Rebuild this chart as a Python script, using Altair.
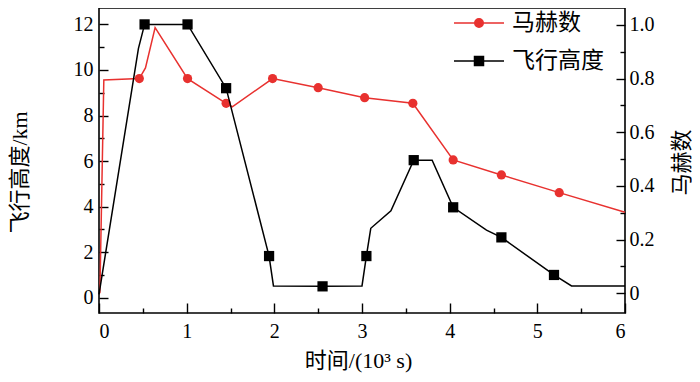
import altair as alt
import pandas as pd

SERIF = "Liberation Serif, Noto Sans CJK SC"
RED = "#e8312f"
BLACK = "#000000"

# 飞行高度 (km) vs 时间 (10^3 s)
alt_line_t = [0.0, 0.45, 0.52, 1.01, 1.45, 1.94, 1.99, 2.55, 3.00, 3.05, 3.10, 3.33, 3.59, 3.80, 4.04, 4.42, 4.59, 5.19, 5.39, 6.0]
alt_line_v = [0.15, 10.95, 12.0, 12.0, 9.2, 1.83, 0.52, 0.5, 0.52, 1.83, 3.05, 3.82, 6.04, 6.04, 3.97, 2.97, 2.65, 1.0, 0.52, 0.52]
alt_mark_t = [0.52, 1.01, 1.45, 1.94, 2.55, 3.05, 3.59, 4.04, 4.59, 5.19]
alt_mark_v = [12.0, 12.0, 9.2, 1.83, 0.5, 1.83, 6.04, 3.97, 2.65, 1.0]

# 马赫数 vs 时间
mach_line_t = [0.01, 0.055, 0.46, 0.53, 0.64, 1.01, 1.45, 1.52, 1.98, 2.50, 3.03, 3.58, 4.04, 4.59, 5.25, 6.0]
mach_line_v = [0.0, 0.795, 0.80, 0.84, 0.99, 0.80, 0.708, 0.695, 0.80, 0.766, 0.729, 0.708, 0.497, 0.441, 0.375, 0.302]
mach_mark_t = [0.46, 1.01, 1.45, 1.98, 2.50, 3.03, 3.58, 4.04, 4.59, 5.25]
mach_mark_v = [0.80, 0.80, 0.708, 0.80, 0.766, 0.729, 0.708, 0.497, 0.441, 0.375]

series = ["马赫数", "飞行高度"]
series_colors = [RED, BLACK]
legend_paths = [
    "M-1,0H1M0.17,0A0.17,0.17,0,1,1,-0.17,0A0.17,0.17,0,1,1,0.17,0Z",
    "M-1,0H1M-0.18,-0.18H0.18V0.18H-0.18Z",
]

x_ticks = [i * 0.5 for i in range(13)]
alt_ticks = list(range(0, 13))
mach_ticks = [i / 10 for i in range(11)]

W, H = 526, 305
TITLE_SIZE = 22

df_alt_line = pd.DataFrame({"t": alt_line_t, "v": alt_line_v, "i": range(len(alt_line_t))})
df_alt_mark = pd.DataFrame({"t": alt_mark_t, "v": alt_mark_v})
df_mach_line = pd.DataFrame({"t": mach_line_t, "v": mach_line_v, "i": range(len(mach_line_t))})
df_mach_mark = pd.DataFrame({"t": mach_mark_t, "v": mach_mark_v})
df_legend = pd.DataFrame({"series": series, "t": [0.0, 0.0], "v": [0.0, 0.0]})

x_enc = alt.X(
    "t:Q",
    scale=alt.Scale(domain=[0, 6], nice=False, zero=False),
    axis=alt.Axis(
        values=x_ticks,
        title="时间/(10³ s)",
        titleX=259, titleY=47, titleBaseline="middle", titleAnchor="middle",
        labelExpr="datum.value % 1 === 0 ? format(datum.value, 'd') : ''",
        labelPadding=8,
        grid=True,
        gridDash={"condition": {"test": "datum.value % 1 === 0", "value": [0, H - 10, 10, 2000]},
                  "value": [0, H - 5, 5, 2000]},
    ),
)

y_alt = alt.Y(
    "v:Q",
    scale=alt.Scale(domain=[-0.67, 12.72], nice=False, zero=False),
    axis=alt.Axis(
        orient="left",
        values=alt_ticks,
        title="飞行高度/km",
        titleAngle=270, titleBaseline="middle", titleX=-80, titleY=164,
        labelExpr="datum.value % 2 === 0 ? datum.label : ''",
        labelPadding=6,
        grid=True,
        gridDash={"condition": {"test": "datum.value % 2 === 0", "value": [9, 2000]}, "value": [5, 2000]},
    ),
)

y_mach = alt.Y(
    "v:Q",
    scale=alt.Scale(domain=[-0.0734, 1.063], nice=False, zero=False),
    axis=alt.Axis(
        orient="right",
        values=mach_ticks,
        title="马赫数",
        titleAngle=270, titleBaseline="middle", titleX=56, titleY=154,
        labelExpr="round(datum.value * 10) % 2 === 0 ? (datum.value === 0 ? '0' : format(datum.value, '.1f')) : ''",
        labelPadding=4,
        grid=True,
        gridDash={"condition": {"test": "round(datum.value * 10) % 2 === 0", "value": [9, 2000]}, "value": [5, 2000]},
    ),
)

mach_line = alt.Chart(df_mach_line).mark_line(color=RED, strokeWidth=1.5).encode(
    x=x_enc, y=y_mach, order=alt.Order("i:Q")
)
mach_pts = alt.Chart(df_mach_mark).mark_point(
    shape="circle", filled=True, color=RED, size=85, opacity=1
).encode(x=x_enc, y=y_mach)

legend_layer = alt.Chart(df_legend).transform_filter("false").mark_point(
    filled=True, opacity=1, strokeWidth=1.5
).encode(
    x=x_enc,
    y=y_mach,
    fill=alt.Fill(
        "series:N",
        scale=alt.Scale(domain=series, range=series_colors),
        legend=alt.Legend(
            title=None, orient="none", legendX=354, legendY=-11,
            symbolSize=2500, symbolStrokeWidth=1.5,
            labelFont=SERIF, labelFontSize=23, labelOffset=7,
            rowPadding=-11.8, padding=0, labelLimit=300,
        ),
    ),
    stroke=alt.Stroke("series:N", scale=alt.Scale(domain=series, range=series_colors)),
    shape=alt.Shape("series:N", scale=alt.Scale(domain=series, range=legend_paths)),
)

alt_line = alt.Chart(df_alt_line).mark_line(color=BLACK, strokeWidth=1.5).encode(
    x=x_enc, y=y_alt, order=alt.Order("i:Q")
)
alt_pts = alt.Chart(df_alt_mark).mark_point(
    shape="square", filled=True, color=BLACK, size=105, opacity=1
).encode(x=x_enc, y=y_alt)

mach_layer = alt.layer(mach_line, mach_pts, legend_layer)
alt_layer = alt.layer(alt_line, alt_pts)

chart = alt.layer(mach_layer, alt_layer).resolve_scale(y="independent").properties(
    width=W, height=H,
    autosize=alt.AutoSizeParams(type="none"),
    padding={"left": 91, "top": 0, "right": 67, "bottom": 61},
).configure_view(
    stroke="black", strokeWidth=1.6
).configure_axis(
    domain=False, ticks=False, tickSize=0,
    gridColor="black", gridWidth=1.4, gridOpacity=1,
    labelFont=SERIF, labelFontSize=20, labelColor="black",
    titleFont=SERIF, titleFontSize=TITLE_SIZE, titleFontWeight="normal", titleColor="black",
)

chart.save("out.html", embed_options={"renderer": "svg", "actions": False})
